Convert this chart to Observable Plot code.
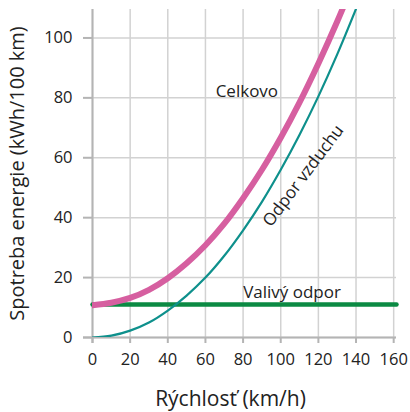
<!DOCTYPE html>
<html><head><meta charset="utf-8">
<script src="https://cdn.jsdelivr.net/npm/d3@7"></script>
<script src="https://cdn.jsdelivr.net/npm/@observablehq/plot@0.6"></script>
<style>body{margin:0;background:#fff}</style>
</head><body><div id="chart"></div>
<script>
const speed   = [0, 10, 20, 30, 40, 50, 60, 70, 80, 90, 100, 110, 120, 130, 140];
const airDrag = [0, 0.6, 2.3, 5.0, 9.0, 14.0, 20.0, 27.3, 35.8, 45.3, 56.0, 67.7, 80.5, 94.5, 109.7];
const total   = [10.8, 11.6, 13.2, 15.9, 19.8, 24.8, 30.8, 38.0, 46.5, 56.0, 66.7, 78.5, 91.5, 105.5, 120.5];
const rollSpeed = [0, 161.5];
const rolling   = [11, 11];
const xTicks = [0, 20, 40, 60, 80, 100, 120, 140, 160];
const yTicks = [0, 20, 40, 60, 80, 100];
const labels = [
  {x: 82, y: 82, text: "Celkovo", rotate: 0},
  {x: 112, y: 54, text: "Odpor vzduchu", rotate: -53},
  {x: 106, y: 15, text: "Valivý odpor", rotate: 0}
];
const xTitle = "Rýchlosť (km/h)";
const yTitle = "Spotreba energie (kWh/100 km)";

const airData = speed.map((s, i) => ({s, v: airDrag[i]}));
const totalData = speed.map((s, i) => ({s, v: total[i]}));
const rollData = rollSpeed.map((s, i) => ({s, v: rolling[i]}));

const grid = "#d2d2d2", axisC = "#b4b4b4", ink = "#222";

const chart = Plot.plot({
  width: 410, height: 412,
  marginLeft: 92, marginRight: 14, marginTop: 9, marginBottom: 75,
  style: {fontFamily: "'Open Sans', sans-serif", fontSize: "16px", color: ink, background: "#fff", overflow: "visible"},
  x: {domain: [0, 161.5]},
  y: {domain: [0, 109.5]},
  marks: [
    Plot.gridX(xTicks, {stroke: grid, strokeOpacity: 1, strokeWidth: 1.5}),
    Plot.gridY(yTicks, {stroke: grid, strokeOpacity: 1, strokeWidth: 1.5}),
    Plot.ruleY([0], {stroke: axisC, strokeWidth: 2, insetLeft: -9}),
    Plot.ruleX([0], {stroke: axisC, strokeWidth: 2, insetBottom: -6}),
    Plot.axisX(xTicks, {tickSize: 6, tickPadding: 10, stroke: axisC, strokeWidth: 2, fontSize: 16.5, fill: ink, label: null}),
    Plot.axisY(yTicks, {tickSize: 9, tickPadding: 11, stroke: axisC, strokeWidth: 2, fontSize: 16.5, fill: ink, label: null}),
    Plot.line(rollData, {x: "s", y: "v", stroke: "#0b8a43", strokeWidth: 4.5}),
    Plot.line(airData, {x: "s", y: "v", stroke: "#0e908c", strokeWidth: 2.2, curve: "catmull-rom", clip: true}),
    Plot.line(totalData, {x: "s", y: "v", stroke: "#d65fa0", strokeWidth: 6, curve: "catmull-rom", clip: true}),
    Plot.text(labels, {x: "x", y: "y", text: "text", rotate: "rotate", fontSize: 17, fill: ink, textAnchor: "middle", lineAnchor: "middle"}),
    Plot.text([xTitle], {text: d => d, frameAnchor: "bottom", dy: 62, dx: -14, fontSize: 21, fill: ink, textAnchor: "middle", lineAnchor: "middle"}),
    Plot.text([yTitle], {text: d => d, frameAnchor: "left", rotate: -90, dx: -75, fontSize: 20, fill: ink, textAnchor: "middle", lineAnchor: "middle"})
  ]
});
document.getElementById("chart").appendChild(chart);
</script>
</body></html>
